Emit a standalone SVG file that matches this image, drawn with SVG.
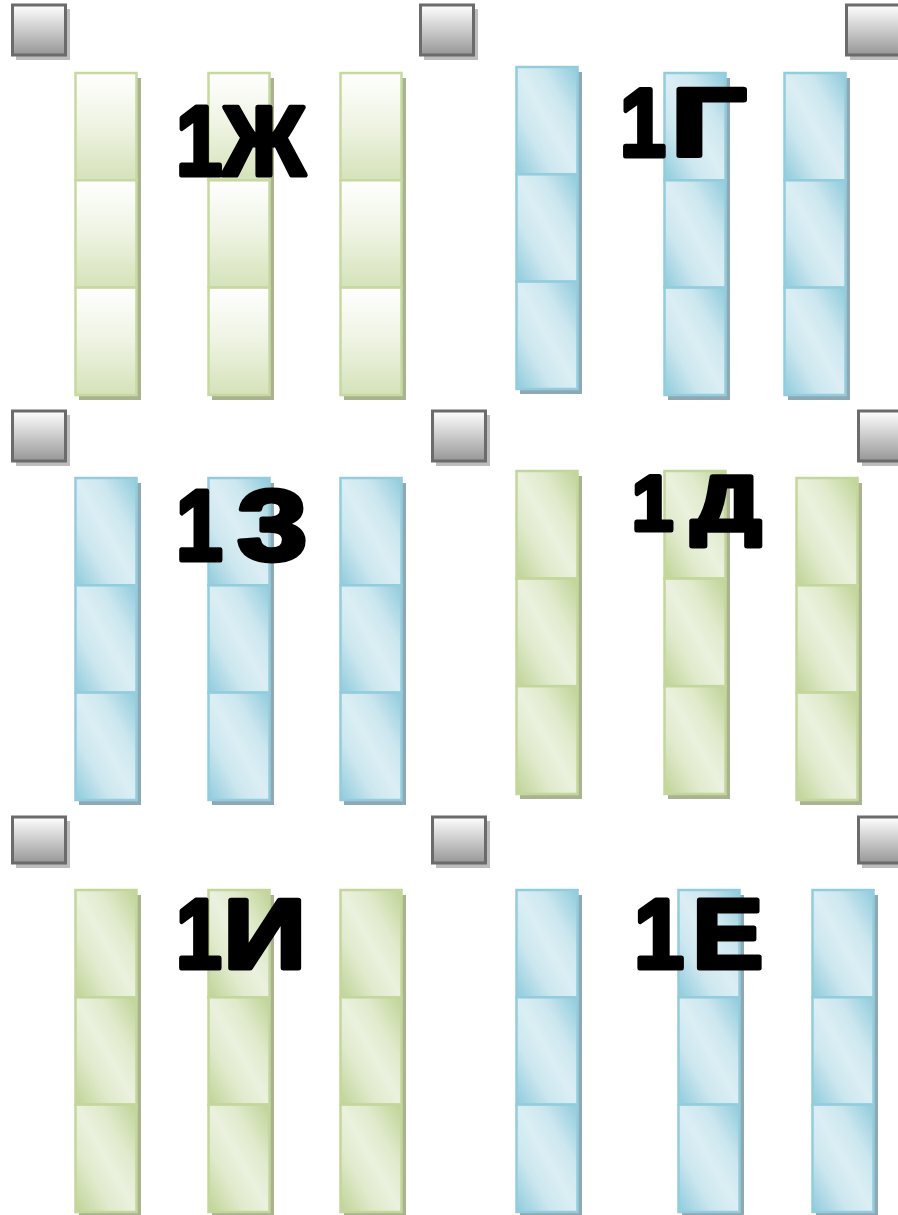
<svg xmlns="http://www.w3.org/2000/svg" width="898" height="1215" viewBox="0 0 898 1215">
<defs>
<linearGradient id="gGV" x1="0" y1="0" x2="0" y2="1">
<stop offset="0" stop-color="#ffffff"/><stop offset="0.5" stop-color="#eef3e2"/><stop offset="1" stop-color="#d5e2b9"/>
</linearGradient>
<linearGradient id="gGD" x1="1" y1="0" x2="0" y2="1">
<stop offset="0" stop-color="#bfd395"/><stop offset="0.3" stop-color="#e0eacc"/><stop offset="0.5" stop-color="#ebf1de"/><stop offset="0.7" stop-color="#e0eacc"/><stop offset="1" stop-color="#bfd395"/>
</linearGradient>
<linearGradient id="gBD" x1="1" y1="0" x2="0" y2="1">
<stop offset="0" stop-color="#8fcbdc"/><stop offset="0.3" stop-color="#cde7ef"/><stop offset="0.5" stop-color="#dbeef4"/><stop offset="0.7" stop-color="#cde7ef"/><stop offset="1" stop-color="#8fcbdc"/>
</linearGradient>
<linearGradient id="gSq" x1="0" y1="0" x2="0" y2="1">
<stop offset="0" stop-color="#ffffff"/><stop offset="1" stop-color="#979797"/>
</linearGradient>
</defs>
<style>
.gv{fill:url(#gGV);stroke:#c6d9a0;stroke-width:2.5}
.gd{fill:url(#gGD);stroke:#c3d69b;stroke-width:2.5}
.bd{fill:url(#gBD);stroke:#93cddd;stroke-width:2.5}
.sg{fill:#a9b38f}
.sb{fill:#8ea9b3}
.sq{fill:url(#gSq);stroke:#6b6b6b;stroke-width:3}
.ss{fill:#bdbdbd}
.lbl{font-family:"Liberation Sans",Arial,sans-serif;font-weight:bold;fill:#000;stroke:#000;stroke-width:5;stroke-linejoin:round}
.e{text-anchor:end}
</style>

<g id="squares">
<g id="sq1"><rect class="ss" x="16" y="9" width="54" height="51"/><rect class="sq" x="12.5" y="5" width="53" height="50"/></g>
<g id="sq2"><rect class="ss" x="424" y="9" width="54" height="51"/><rect class="sq" x="420.5" y="5" width="53" height="50"/></g>
<g id="sq3"><rect class="ss" x="850" y="9" width="54" height="51"/><rect class="sq" x="846.5" y="5" width="53" height="50"/></g>
<g id="sq4"><rect class="ss" x="16" y="415" width="54" height="51"/><rect class="sq" x="12.5" y="411" width="53" height="50"/></g>
<g id="sq5"><rect class="ss" x="436" y="415" width="54" height="51"/><rect class="sq" x="432.5" y="411" width="53" height="50"/></g>
<g id="sq6"><rect class="ss" x="862" y="415" width="54" height="51"/><rect class="sq" x="858.5" y="411" width="53" height="50"/></g>
<g id="sq7"><rect class="ss" x="16" y="821" width="54" height="47"/><rect class="sq" x="12.5" y="817" width="53" height="46"/></g>
<g id="sq8"><rect class="ss" x="436" y="821" width="54" height="47"/><rect class="sq" x="432.5" y="817" width="53" height="46"/></g>
<g id="sq9"><rect class="ss" x="862" y="821" width="54" height="47"/><rect class="sq" x="858.5" y="817" width="53" height="46"/></g>
</g>

<g id="panel-1zh">
<g id="zh-c1"><rect class="sg" x="79" y="78" width="62" height="322"/><rect class="gv" x="75.5" y="73" width="61" height="107.3"/><rect class="gv" x="75.5" y="180.3" width="61" height="107.3"/><rect class="gv" x="75.5" y="287.6" width="61" height="107.4"/></g>
<g id="zh-c2"><rect class="sg" x="212" y="78" width="62" height="322"/><rect class="gv" x="208.5" y="73" width="61" height="107.3"/><rect class="gv" x="208.5" y="180.3" width="61" height="107.3"/><rect class="gv" x="208.5" y="287.6" width="61" height="107.4"/></g>
<g id="zh-c3"><rect class="sg" x="344" y="78" width="62" height="322"/><rect class="gv" x="340.5" y="73" width="61" height="107.3"/><rect class="gv" x="340.5" y="180.3" width="61" height="107.3"/><rect class="gv" x="340.5" y="287.6" width="61" height="107.4"/></g>
<g id="lbl-1zh" class="lbl" font-size="99">
<text transform="translate(176,174.5) scale(0.84,1)">1</text>
<text class="e" transform="translate(305,174.5) scale(0.92,1)">Ж</text>
</g>
</g>

<g id="panel-1g">
<g id="g-c1"><rect class="sb" x="520" y="72" width="62" height="322"/><rect class="bd" x="516.5" y="67" width="61" height="107.3"/><rect class="bd" x="516.5" y="174.3" width="61" height="107.3"/><rect class="bd" x="516.5" y="281.6" width="61" height="107.4"/></g>
<g id="g-c2"><rect class="sb" x="668" y="78" width="62" height="322"/><rect class="bd" x="664.5" y="73" width="61" height="107.3"/><rect class="bd" x="664.5" y="180.3" width="61" height="107.3"/><rect class="bd" x="664.5" y="287.6" width="61" height="107.4"/></g>
<g id="g-c3"><rect class="sb" x="788" y="78" width="62" height="322"/><rect class="bd" x="784.5" y="73" width="61" height="107.3"/><rect class="bd" x="784.5" y="180.3" width="61" height="107.3"/><rect class="bd" x="784.5" y="287.6" width="61" height="107.4"/></g>
<g id="lbl-1g" class="lbl" font-size="96">
<text transform="translate(620,155.5) scale(0.86,1)">1</text>
<text class="e" transform="translate(746,155.5) scale(1.38,1)">Г</text>
</g>
</g>

<g id="panel-13">
<g id="z-c1"><rect class="sb" x="79" y="483" width="62" height="322"/><rect class="bd" x="75.5" y="478" width="61" height="107.3"/><rect class="bd" x="75.5" y="585.3" width="61" height="107.3"/><rect class="bd" x="75.5" y="692.6" width="61" height="107.4"/></g>
<g id="z-c2"><rect class="sb" x="212" y="483" width="62" height="322"/><rect class="bd" x="208.5" y="478" width="61" height="107.3"/><rect class="bd" x="208.5" y="585.3" width="61" height="107.3"/><rect class="bd" x="208.5" y="692.6" width="61" height="107.4"/></g>
<g id="z-c3"><rect class="sb" x="344" y="483" width="62" height="322"/><rect class="bd" x="340.5" y="478" width="61" height="107.3"/><rect class="bd" x="340.5" y="585.3" width="61" height="107.3"/><rect class="bd" x="340.5" y="692.6" width="61" height="107.4"/></g>
<g id="lbl-13" class="lbl" font-size="100">
<text transform="translate(176,559.5) scale(0.84,1)">1</text>
<text class="e" transform="translate(307,559.5) scale(1.25,1)">3</text>
</g>
</g>

<g id="panel-1d">
<g id="d-c1"><rect class="sg" x="520" y="476" width="62" height="323"/><rect class="gd" x="516.5" y="471" width="61" height="107.6"/><rect class="gd" x="516.5" y="578.6" width="61" height="107.6"/><rect class="gd" x="516.5" y="686.2" width="61" height="107.8"/></g>
<g id="d-c2"><rect class="sg" x="668" y="476" width="62" height="323"/><rect class="gd" x="664.5" y="471" width="61" height="107.6"/><rect class="gd" x="664.5" y="578.6" width="61" height="107.6"/><rect class="gd" x="664.5" y="686.2" width="61" height="107.8"/></g>
<g id="d-c3"><rect class="sg" x="800" y="483" width="62" height="322"/><rect class="gd" x="796.5" y="478" width="61" height="107.3"/><rect class="gd" x="796.5" y="585.3" width="61" height="107.3"/><rect class="gd" x="796.5" y="692.6" width="61" height="107.4"/></g>
<g id="lbl-1d" class="lbl" font-size="78">
<text transform="translate(632,529.5) scale(0.95,1)">1</text>
<text class="e" transform="translate(761,529.5) scale(1.25,1)">Д</text>
</g>
</g>

<g id="panel-1i">
<g id="i-c1"><rect class="sg" x="79" y="895" width="62" height="322"/><rect class="gd" x="75.5" y="890" width="61" height="107.3"/><rect class="gd" x="75.5" y="997.3" width="61" height="107.3"/><rect class="gd" x="75.5" y="1104.6" width="61" height="107.4"/></g>
<g id="i-c2"><rect class="sg" x="212" y="895" width="62" height="322"/><rect class="gd" x="208.5" y="890" width="61" height="107.3"/><rect class="gd" x="208.5" y="997.3" width="61" height="107.3"/><rect class="gd" x="208.5" y="1104.6" width="61" height="107.4"/></g>
<g id="i-c3"><rect class="sg" x="344" y="895" width="62" height="322"/><rect class="gd" x="340.5" y="890" width="61" height="107.3"/><rect class="gd" x="340.5" y="997.3" width="61" height="107.3"/><rect class="gd" x="340.5" y="1104.6" width="61" height="107.4"/></g>
<g id="lbl-1i" class="lbl" font-size="98">
<text transform="translate(176,967.5) scale(0.84,1)">1</text>
<text class="e" transform="translate(306,967.5) scale(1.17,1)">И</text>
</g>
</g>

<g id="panel-1e">
<g id="e-c1"><rect class="sb" x="520" y="895" width="62" height="322"/><rect class="bd" x="516.5" y="890" width="61" height="107.3"/><rect class="bd" x="516.5" y="997.3" width="61" height="107.3"/><rect class="bd" x="516.5" y="1104.6" width="61" height="107.4"/></g>
<g id="e-c2"><rect class="sb" x="682" y="895" width="62" height="322"/><rect class="bd" x="678.5" y="890" width="61" height="107.3"/><rect class="bd" x="678.5" y="997.3" width="61" height="107.3"/><rect class="bd" x="678.5" y="1104.6" width="61" height="107.4"/></g>
<g id="e-c3"><rect class="sb" x="816" y="895" width="62" height="322"/><rect class="bd" x="812.5" y="890" width="61" height="107.3"/><rect class="bd" x="812.5" y="997.3" width="61" height="107.3"/><rect class="bd" x="812.5" y="1104.6" width="61" height="107.4"/></g>
<g id="lbl-1e" class="lbl" font-size="98">
<text transform="translate(634,967.5) scale(0.92,1)">1</text>
<text class="e" transform="translate(763,967.5) scale(1.08,1)">Е</text>
</g>
</g>

<g id="connectors"/>
</svg>
